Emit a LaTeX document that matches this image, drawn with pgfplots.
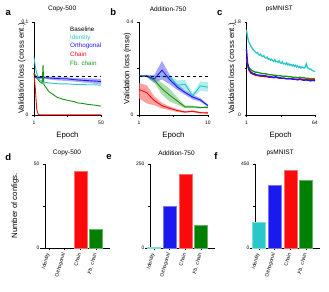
\documentclass[border=0pt]{standalone}
\usepackage{pgfplots}
\pgfplotsset{compat=1.18}
\usepackage{fontspec}
\setmainfont{Liberation Sans}
\definecolor{cyL}{RGB}{40,200,200}
\definecolor{blL}{RGB}{25,25,240}
\definecolor{rdL}{RGB}{250,10,10}
\definecolor{grL}{RGB}{20,150,20}
\definecolor{grB}{RGB}{0,128,0}
\begin{document}
\begin{tikzpicture}
\useasboundingbox (0bp,0bp) rectangle (329bp,292bp);
\pgfplotsset{
 myax/.style={scale only axis, axis lines=left, axis line style={-, line width=0.5bp},
   tick align=outside, major tick length=2bp, tick style={black, line width=0.5bp},
   tick label style={font=\fontsize{5}{6}\selectfont},
   label style={font=\fontsize{7.8}{9}\selectfont},
   title style={font=\fontsize{6.5}{8}\selectfont, anchor=center},
   clip=false, anchor=south west},
 topax/.style={myax, height=93bp,
   xlabel={Epoch}, xlabel style={at={(axis description cs:0.5,-0.215)}, anchor=center},
   ylabel style={at={(axis description cs:-0.18,0.5)}, anchor=center},
   xticklabel style={yshift=-1bp}},
 barax/.style={myax, height=84bp, width=70bp, xmin=-0.58, xmax=3.9, ymin=0,
   axis y line shift=-5bp,
   xtick={0,1,2,3}, xticklabels={Identity,Orthogonal,Chain,Fb. chain},
   xticklabel style={rotate=74, anchor=east, font=\fontsize{5}{6}\selectfont},
   title style={at={(axis description cs:0.42,1.06)}}},
 bar/.style={ybar, bar width=13bp, bar shift=0pt, line width=0.4bp}
}
% ---------------- a ----------------
\begin{axis}[topax, at={(34bp,177bp)}, width=67bp, xmin=1, xmax=50, ymin=0, ymax=0.1,
  xtick={1,25.5,50}, xticklabels={1,,50}, ytick={0,0.05,0.1}, yticklabels={0,,0.1},
  ylabel={Validation loss (cross ent.)}, title={Copy-500},
  title style={at={(axis description cs:0.42,1.075)}}]
\addplot[fill=blL!60, fill opacity=0.6, draw=none] coordinates {
 (1,0.0425)(5,0.042)(10,0.0415)(20,0.041)(30,0.040)(40,0.0395)(50,0.039)
 (50,0.033)(40,0.0345)(30,0.036)(20,0.037)(10,0.0385)(5,0.039)(1,0.0395)} --cycle;
\addplot[cyL, line width=0.9bp] coordinates {
 (1,0.062)(2,0.052)(3,0.045)(4,0.041)(5,0.038)(6,0.037)(7,0.036)(8,0.0355)(10,0.035)
 (12,0.0345)(15,0.034)(20,0.0335)(25,0.0335)(30,0.033)(35,0.033)(40,0.0325)(45,0.0325)(50,0.032)};
\addplot[blL, line width=0.9bp] coordinates {
 (1,0.041)(3,0.040)(5,0.0405)(10,0.040)(15,0.0395)(20,0.039)(25,0.039)(30,0.038)
 (35,0.0375)(40,0.037)(45,0.0365)(50,0.036)};
\addplot[grL, line width=0.9bp] coordinates {
 (1,0.045)(2,0.043)(3,0.040)(4,0.038)(5,0.036)(6,0.035)(7,0.034)(7.6,0.054)(8.2,0.033)(9,0.031)
 (10,0.029)(11,0.027)(12,0.025)(14,0.023)(16,0.021)(18,0.019)(20,0.018)(22,0.017)(25,0.016)
 (28,0.015)(30,0.0145)(33,0.013)(36,0.0125)(40,0.0115)(43,0.011)(46,0.0105)(50,0.0095)};
\addplot[rdL, line width=0.9bp] coordinates {
 (1,0.045)(2,0.028)(3,0.006)(4,0.001)(5,0.0002)(10,0.0002)(20,0.0002)(30,0.0002)(40,0.0002)(50,0.0002)};
\addplot[black, dashed, line width=0.8bp] coordinates {(1,0.042)(50,0.042)};
\end{axis}
% ---------------- b ----------------
\begin{axis}[topax, at={(139bp,177bp)}, width=69bp, xmin=1, xmax=10, ymin=0, ymax=0.4,
  xtick={1,5.5,10}, xticklabels={1,,10}, ytick={0,0.2,0.4}, yticklabels={0,,0.4},
  ylabel={Validation loss (mse)}, title={Addition-750},
  ylabel style={at={(axis description cs:-0.167,0.5)}},
  title style={at={(axis description cs:0.42,1.075)}}]
\addplot[fill=rdL!55, fill opacity=0.7, draw=none] coordinates {
 (1,0.137)(2,0.128)(3,0.08)(4,0.052)(5,0.037)(6,0.025)(7,0.017)(8,0.02)(9,0.014)(10,0.013)
 (10,0.005)(9,0.006)(8,0.012)(7,0.009)(6,0.013)(5,0.021)(4,0.028)(3,0.042)(2,0.05)(1,0.072)} --cycle;
\addplot[fill=grL!50, fill opacity=0.7, draw=none] coordinates {
 (2,0.170)(3,0.162)(4,0.138)(5,0.112)(6,0.075)(7,0.041)(8,0.04)(9,0.036)(10,0.037)
 (10,0.029)(9,0.028)(8,0.03)(7,0.029)(6,0.045)(5,0.058)(4,0.088)(3,0.138)(2,0.164)} --cycle;
\addplot[fill=cyL!50, fill opacity=0.7, draw=none] coordinates {
 (4,0.170)(5,0.173)(6,0.148)(7,0.152)(8,0.093)(9,0.145)(10,0.14)
 (10,0.10)(9,0.105)(8,0.073)(7,0.112)(6,0.108)(5,0.153)(4,0.162)} --cycle;
\addplot[fill=blL!55, fill opacity=0.7, draw=none] coordinates {
 (1,0.171)(2,0.173)(3,0.172)(4,0.233)(5,0.172)(6,0.132)(7,0.107)(8,0.087)(9,0.073)(10,0.045)
 (10,0.035)(9,0.057)(8,0.067)(7,0.087)(6,0.108)(5,0.132)(4,0.153)(3,0.138)(2,0.163)(1,0.163)} --cycle;
\addplot[cyL, line width=0.9bp] coordinates {
 (1,0.167)(2,0.167)(3,0.166)(4,0.166)(5,0.163)(6,0.128)(7,0.132)(8,0.083)(9,0.125)(10,0.12)};
\addplot[grL, line width=0.9bp] coordinates {
 (1,0.167)(2,0.167)(3,0.15)(4,0.113)(5,0.085)(6,0.06)(7,0.035)(8,0.035)(9,0.032)(10,0.033)};
\addplot[rdL, line width=0.9bp] coordinates {
 (1,0.11)(2,0.096)(3,0.062)(4,0.04)(5,0.029)(6,0.019)(7,0.013)(8,0.016)(9,0.01)(10,0.009)};
\addplot[blL, line width=0.9bp] coordinates {
 (1,0.167)(2,0.168)(3,0.155)(4,0.193)(5,0.152)(6,0.12)(7,0.097)(8,0.077)(9,0.065)(10,0.04)};
\addplot[black, dashed, line width=0.8bp] coordinates {(1,0.167)(10,0.167)};
\end{axis}
% ---------------- c ----------------
\begin{axis}[topax, at={(246.5bp,177bp)}, width=68.5bp, xmin=1, xmax=64, ymin=0, ymax=1.8,
  xtick={1,32.5,64}, xticklabels={1,,64}, ytick={0,0.9,1.8}, yticklabels={0,,1.8},
  ylabel={Validation loss (cross ent.)}, title={psMNIST},
  ylabel style={at={(axis description cs:-0.21,0.5)}},
  title style={at={(axis description cs:0.48,1.075)}}]
\addplot[cyL, line width=1.3bp] coordinates {
 (1,1.65)(2,1.50)(3,1.42)(4,1.38)(5,1.33)(6,1.30)(7,1.27)(8,1.25)(9,1.22)(10,1.20)(11,1.21)(12,1.17)
 (13,1.16)(14,1.18)(15,1.14)(16,1.13)(17,1.15)(18,1.11)(19,1.10)(20,1.12)(21,1.08)(22,1.09)(23,1.06)
 (24,1.08)(25,1.05)(26,1.04)(27,1.07)(28,1.03)(29,1.04)(30,1.02)(31,1.05)(32,1.01)(33,1.00)(34,1.03)
 (35,0.99)(36,1.00)(37,0.98)(38,1.01)(39,0.97)(40,0.99)(41,0.96)(42,0.98)(43,0.95)(44,0.97)(45,0.94)
 (46,0.96)(47,0.93)(48,0.95)(49,0.92)(50,0.94)(51,0.91)(52,0.93)(53,0.92)(54,0.91)(55,0.93)(56,0.99)
 (57,0.92)(58,0.90)(59,0.89)(60,0.89)(61,0.87)(62,0.86)(63,0.85)(64,0.84)};
\addplot[grL, line width=1.3bp] coordinates {
 (1,1.10)(2,0.99)(3,0.93)(4,0.90)(5,0.88)(6,0.86)(7,0.85)(8,0.84)(9,0.83)(10,0.83)(12,0.82)(14,0.81)
 (16,0.80)(18,0.80)(20,0.79)(22,0.78)(24,0.78)(26,0.77)(28,0.77)(30,0.76)(32,0.76)(34,0.75)(36,0.75)
 (38,0.75)(40,0.74)(42,0.74)(44,0.73)(46,0.73)(48,0.72)(50,0.73)(52,0.72)(54,0.72)(56,0.71)(58,0.71)
 (60,0.70)(62,0.70)(64,0.70)};
\addplot[rdL, line width=1.3bp] coordinates {
 (1,1.10)(2,0.95)(3,0.88)(4,0.84)(5,0.81)(6,0.80)(7,0.79)(8,0.78)(9,0.77)(10,0.77)(12,0.76)(14,0.75)
 (16,0.75)(18,0.74)(20,0.74)(22,0.73)(24,0.73)(26,0.72)(28,0.73)(30,0.72)(32,0.71)(34,0.71)(36,0.71)
 (38,0.70)(40,0.70)(42,0.70)(44,0.70)(46,0.69)(48,0.69)(50,0.70)(52,0.69)(54,0.69)(56,0.68)(58,0.69)
 (60,0.68)(62,0.68)(64,0.68)};
\addplot[blL, line width=1.3bp] coordinates {
 (1,1.28)(2,1.00)(3,0.90)(4,0.86)(5,0.83)(6,0.82)(7,0.80)(8,0.80)(9,0.79)(10,0.78)(12,0.77)(14,0.77)
 (16,0.76)(18,0.76)(20,0.75)(22,0.74)(24,0.74)(26,0.73)(28,0.74)(30,0.72)(32,0.72)(34,0.71)(36,0.71)
 (38,0.70)(40,0.70)(42,0.70)(44,0.69)(46,0.69)(48,0.68)(50,0.69)(52,0.68)(54,0.67)(56,0.68)(58,0.67)
 (60,0.66)(62,0.67)(64,0.66)};
\end{axis}
% legend of a
\begin{scope}[every node/.style={anchor=west, inner sep=0pt, font=\fontsize{6.3}{7}\selectfont}]
\node[text=black] at (70bp,{(292-29.3)*1bp}) {Baseline};
\node[text=cyL] at (70bp,{(292-38)*1bp}) {Identity};
\node[text=blL] at (70bp,{(292-46.3)*1bp}) {Orthogonal};
\node[text=rdL] at (70bp,{(292-54.6)*1bp}) {Chain};
\node[text=grL] at (70bp,{(292-62.9)*1bp}) {Fb. chain};
\end{scope}
% ---------------- d ----------------
\begin{axis}[barax, at={(40bp,44bp)}, ymax=50, ytick={0,25,50}, yticklabels={0,,50},
  ylabel={Number of configs.}, ylabel style={at={(axis description cs:-0.357,0.5)}, anchor=center},
  title={Copy-500}, title style={at={(axis description cs:0.386,1.06)}}]
\addplot[bar, fill=rdL, draw=rdL!60] coordinates {(2,46)};
\addplot[bar, fill=grB, draw=grB!60] coordinates {(3,11)};
\end{axis}
% ---------------- e ----------------
\begin{axis}[barax, at={(145bp,44bp)}, ymax=250, ytick={0,125,250}, yticklabels={0,,250},
  title={Addition-750}, title style={at={(axis description cs:0.45,1.06)}}]
\addplot[bar, fill=cyL, draw=cyL!60] coordinates {(0,2)};
\addplot[bar, fill=blL, draw=blL!60] coordinates {(1,123)};
\addplot[bar, fill=rdL, draw=rdL!60] coordinates {(2,220)};
\addplot[bar, fill=grB, draw=grB!60] coordinates {(3,68)};
\end{axis}
% ---------------- f ----------------
\begin{axis}[barax, at={(250bp,44bp)}, ymax=450, ytick={0,225,450}, yticklabels={0,,450},
  title={psMNIST}, title style={at={(axis description cs:0.43,1.06)}}]
\addplot[bar, fill=cyL, draw=cyL!60] coordinates {(0,139)};
\addplot[bar, fill=blL, draw=blL!60] coordinates {(1,337)};
\addplot[bar, fill=rdL, draw=rdL!60] coordinates {(2,418)};
\addplot[bar, fill=grB, draw=grB!60] coordinates {(3,364)};
\end{axis}
% panel letters
\begin{scope}[every node/.style={inner sep=0pt, font=\fontsize{9.5}{10}\selectfont\bfseries}]
\node at (8.3bp,{(292-12.5)*1bp}) {a};
\node at (113.3bp,{(292-12.5)*1bp}) {b};
\node at (219.7bp,{(292-12.5)*1bp}) {c};
\node at (8.3bp,{(292-156.7)*1bp}) {d};
\node at (109bp,{(292-156.7)*1bp}) {e};
\node at (216bp,{(292-156.5)*1bp}) {f};
\end{scope}
\end{tikzpicture}
\end{document}
